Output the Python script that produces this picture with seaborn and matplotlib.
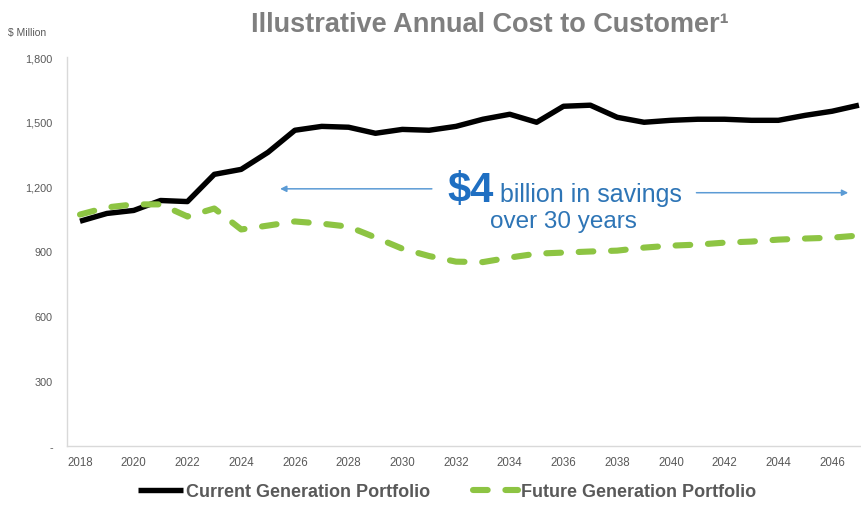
import matplotlib
matplotlib.use("Agg")
import matplotlib.pyplot as plt
from matplotlib import font_manager
import pandas as pd
import seaborn as sns

# Annual cost to customer, $ million
years = list(range(2018, 2048))
current_portfolio = [1040, 1076, 1090, 1136, 1131, 1257, 1280, 1359, 1461, 1479,
                     1475, 1447, 1465, 1461, 1479, 1512, 1535, 1498, 1572, 1577,
                     1521, 1498, 1507, 1512, 1512, 1507, 1507, 1530, 1549, 1577]
future_portfolio = [1071, 1104, 1118, 1118, 1062, 1099, 1002, 1020, 1039, 1029,
                    1015, 965, 913, 879, 853, 851, 872, 890, 895, 900,
                    904, 918, 927, 932, 941, 946, 955, 960, 964, 974]

series_names = ["Current Generation Portfolio", "Future Generation Portfolio"]
y_ticks = [0, 300, 600, 900, 1200, 1500, 1800]
y_tick_labels = ["-", "300", "600", "900", "1,200", "1,500", "1,800"]
x_ticks = list(range(2018, 2047, 2))

title = "Illustrative Annual Cost to Customer\u00b9"
unit_label = "$ Million"
savings_big = "$4"
savings_line1 = "billion in savings"
savings_line2 = "over 30 years"

df = pd.DataFrame({"Year": years,
                   series_names[0]: current_portfolio,
                   series_names[1]: future_portfolio})
long_df = df.melt("Year", var_name="Portfolio", value_name="Cost")

sns.set_theme(style="white")
plt.rcParams["font.family"] = ["Liberation Sans", "DejaVu Sans"]

# Condensed face for the axis tick labels when it is installed
installed = {f.name for f in font_manager.fontManager.ttflist}
if "Liberation Sans Narrow" in installed:
    tick_family, xtick_size, ytick_size = "Liberation Sans Narrow", 9.5, 8.5
else:
    tick_family, xtick_size, ytick_size = "Liberation Sans", 8.3, 7.8

GRAY = "#595959"
BLACK = "#000000"
GREEN = "#8DC443"
BLUE_TEXT = "#2E75B6"
BLUE_BIG = "#1F6FC2"
BLUE_ARROW = "#5B9BD5"

fig = plt.figure(figsize=(8.61, 5.06), dpi=100)
W, H = 861, 506
px_per_year = 26.86
left_px = 80 - 0.5 * px_per_year
ax = fig.add_axes([left_px / W, (H - 447) / H,
                   30 * px_per_year / W, (447 - 58) / H])

sns.lineplot(data=long_df[long_df["Portfolio"] == series_names[0]],
             x="Year", y="Cost", color=BLACK, linewidth=3.9,
             solid_joinstyle="round", solid_capstyle="butt",
             ax=ax, label=series_names[0])
sns.lineplot(data=long_df[long_df["Portfolio"] == series_names[1]],
             x="Year", y="Cost", color=GREEN, linewidth=4.4,
             linestyle=(0, (2.4, 2.9)), dash_capstyle="round",
             ax=ax, label=series_names[1])

ax.set_xlim(2017.5, 2047.5)
ax.set_ylim(0, 1800)
ax.set_yticks(y_ticks)
ax.set_yticklabels(y_tick_labels, family=tick_family)
ax.set_xticks(x_ticks)
ax.set_xticklabels([str(y) for y in x_ticks], family=tick_family)
ax.set_xlabel("")
ax.set_ylabel("")
ax.tick_params(axis="y", length=0, pad=10, labelsize=ytick_size, labelcolor=GRAY)
ax.tick_params(axis="x", length=0, pad=7, labelsize=xtick_size, labelcolor=GRAY)
for side in ("top", "right"):
    ax.spines[side].set_visible(False)
for side in ("left", "bottom"):
    ax.spines[side].set_color("#D9D9D9")
    ax.spines[side].set_linewidth(1.0)
ax.grid(False)

# Savings callout
arrow_kw = dict(arrowstyle="-|>", color=BLUE_ARROW, lw=1.1,
                mutation_scale=9, shrinkA=0, shrinkB=0)
ax.annotate("", xy=(2025.45, 1190), xytext=(2031.1, 1190), arrowprops=arrow_kw)
ax.annotate("", xy=(2046.6, 1172), xytext=(2040.95, 1172), arrowprops=arrow_kw)
ax.text(2031.66, 1133, savings_big, fontsize=30, fontweight="bold",
        color=BLUE_BIG, ha="left", va="baseline")
ax.text(2033.64, 1133, savings_line1, fontsize=18, color=BLUE_TEXT,
        ha="left", va="baseline")
ax.text(2033.26, 1012, savings_line2, fontsize=17.5, color=BLUE_TEXT,
        ha="left", va="baseline")

fig.text(490 / W, 1 - 25 / H, title, ha="center", va="center",
         fontsize=19.5, fontweight="bold", color="#7F7F7F")
fig.text(8 / W, 1 - 33 / H, unit_label, ha="left", va="center",
         fontsize=7.5, color=GRAY)

handles, labels = ax.get_legend_handles_labels()
leg = ax.legend(handles, labels, loc="center", bbox_to_anchor=(447 / W, 13 / H),
                bbox_transform=fig.transFigure, ncol=2, frameon=False,
                handlelength=2.5, handletextpad=0.15, columnspacing=2.4,
                prop={"size": 13, "weight": "bold"})
for t in leg.get_texts():
    t.set_color(GRAY)

fig.savefig("out.png", dpi=100)
